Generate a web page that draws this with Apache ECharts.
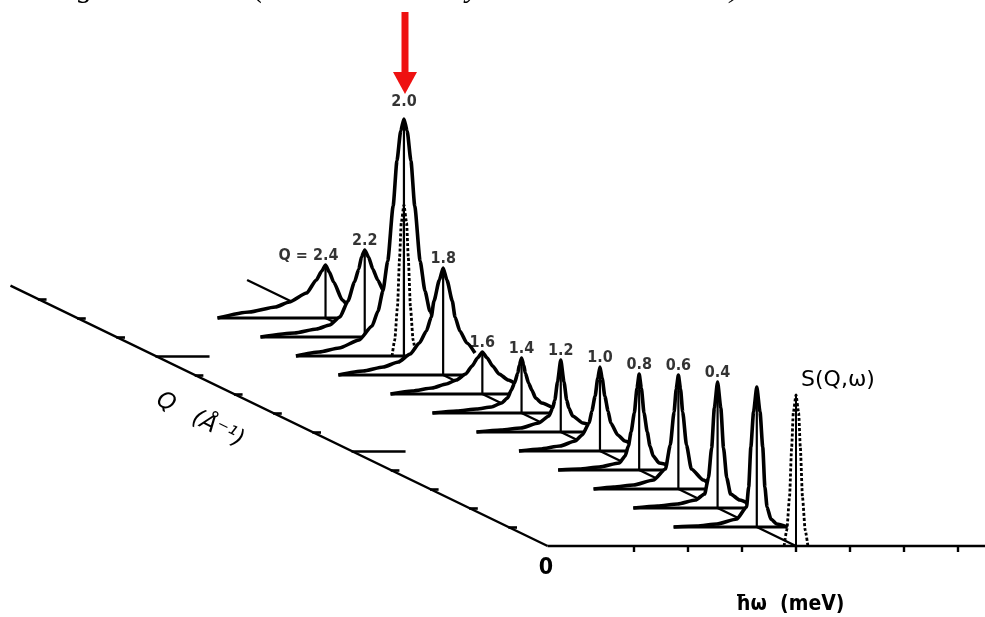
<!DOCTYPE html>
<html>
<head>
<meta charset="utf-8">
<title>S(Q,ω)</title>
<script src="https://cdn.jsdelivr.net/npm/echarts@6/dist/echarts.min.js"></script>
<style>
  html, body { margin: 0; padding: 0; background: #fff; }
  #chart { width: 985px; height: 617px; }
</style>
</head>
<body>
<div id="chart"></div>
<script>
// Q values of the spectra, back to front
var qList = [2.4, 2.2, 2.0, 1.8, 1.6, 1.4, 1.2, 1.0, 0.8, 0.6, 0.4, 0.2];
var qLabels = ['Q = 2.4', '2.2', '2.0', '1.8', '1.6', '1.4', '1.2', '1.0', '0.8', '0.6', '0.4', ''];

// energy (tick units) and S(Q,w)
var w24 = [-2.0, -1.41, -0.93, -0.67, -0.35, -0.17, -0.07, 0, 0.07, 0.15, 0.31, 0.46, 0.59];
var s24 = [0, 0.6, 1.1, 1.6, 2.5, 3.8, 4.7, 5.3, 4.6, 3.6, 1.8, 1.0, 0.6];
var w22 = [-1.93, -1.30, -0.89, -0.65, -0.46, -0.31, -0.19, -0.11, -0.06, 0, 0.07, 0.15, 0.24, 0.35, 0.46, 0.59];
var s22 = [0, 0.4, 0.8, 1.2, 2.0, 3.6, 5.5, 6.8, 8.0, 8.7, 8.0, 6.8, 5.7, 4.6, 3.3, 2.2];
var w20 = [-2.0, -1.57, -1.20, -0.83, -0.59, -0.48, -0.39, -0.30, -0.20, -0.13, -0.06, 0, 0.06, 0.13, 0.20, 0.30, 0.39, 0.48, 0.59];
var s20 = [0, 0.4, 0.8, 1.6, 3.0, 4.5, 6.5, 9.5, 15.0, 19.5, 22.5, 23.7, 22.5, 19.5, 15.0, 9.5, 6.5, 4.5, 3.0];
var w18 = [-1.94, -1.48, -1.11, -0.83, -0.61, -0.44, -0.31, -0.22, -0.17, -0.07, 0, 0.07, 0.17, 0.22, 0.31, 0.44, 0.59];
var s18 = [0, 0.4, 0.8, 1.3, 2.1, 3.2, 4.4, 5.8, 7.4, 9.5, 10.7, 9.5, 7.4, 5.8, 4.4, 3.2, 2.2];
var w16 = [-1.70, -1.30, -0.93, -0.67, -0.48, -0.31, -0.19, -0.09, 0, 0.09, 0.19, 0.31, 0.48, 0.59];
var s16 = [0, 0.3, 0.6, 1.0, 1.4, 2.0, 2.8, 3.6, 4.2, 3.6, 2.8, 2.0, 1.4, 1.1];
var w14 = [-1.65, -1.20, -0.83, -0.56, -0.37, -0.26, -0.19, -0.13, -0.07, -0.04, 0, 0.04, 0.07, 0.13, 0.19, 0.26, 0.37, 0.59];
var s14 = [0, 0.2, 0.4, 0.6, 1.0, 1.5, 2.3, 3.0, 4.0, 4.8, 5.5, 4.8, 4.0, 3.0, 2.3, 1.5, 1.0, 0.5];
var w12 = [-1.56, -1.11, -0.74, -0.41, -0.22, -0.15, -0.11, -0.06, 0, 0.06, 0.11, 0.15, 0.22, 0.41, 0.59];
var s12 = [0, 0.2, 0.4, 0.9, 1.6, 2.4, 3.2, 5.0, 7.2, 5.0, 3.2, 2.4, 1.6, 0.9, 0.6];
var w10 = [-1.50, -1.11, -0.74, -0.46, -0.33, -0.20, -0.15, -0.09, -0.04, 0, 0.04, 0.09, 0.15, 0.20, 0.33, 0.46, 0.59];
var s10 = [0, 0.2, 0.5, 1.0, 1.6, 2.8, 4.0, 5.5, 7.3, 8.4, 7.3, 5.5, 4.0, 2.8, 1.6, 1.0, 0.7];
var w08 = [-1.50, -1.11, -0.74, -0.37, -0.26, -0.20, -0.15, -0.09, -0.04, 0, 0.04, 0.09, 0.15, 0.20, 0.26, 0.37, 0.59];
var s08 = [0, 0.1, 0.3, 0.7, 1.4, 2.4, 3.8, 5.7, 8.2, 9.6, 8.2, 5.7, 3.8, 2.4, 1.4, 0.7, 0.4];
var w06 = [-1.57, -1.20, -0.83, -0.46, -0.24, -0.15, -0.08, -0.04, 0, 0.04, 0.08, 0.15, 0.24, 0.46, 0.59];
var s06 = [0, 0.2, 0.4, 0.9, 2.0, 4.4, 7.7, 10.0, 11.4, 10.0, 7.7, 4.4, 2.0, 0.9, 0.4];
var w04 = [-1.56, -1.11, -0.74, -0.41, -0.24, -0.17, -0.11, -0.06, 0, 0.06, 0.11, 0.17, 0.24, 0.41, 0.59];
var s04 = [0, 0.2, 0.4, 0.8, 1.4, 3.0, 6.0, 10.0, 12.6, 10.0, 6.0, 3.0, 1.4, 0.8, 0.4];
var w02 = [-1.54, -1.11, -0.74, -0.37, -0.19, -0.15, -0.11, -0.06, 0, 0.06, 0.11, 0.15, 0.19, 0.26, 0.37, 0.57];
var s02 = [0, 0.1, 0.3, 0.8, 2.0, 4.0, 8.0, 11.5, 14.0, 11.5, 8.0, 4.0, 2.0, 0.8, 0.3, 0];

// resolution (dashed), drawn at Q = 2.0 and Q = 0
var wRes = [-0.22, -0.17, -0.12, -0.08, -0.05, 0, 0.05, 0.08, 0.12, 0.17, 0.22];
var sRes = [0, 1.6, 4.9, 9.9, 13.3, 15.1, 13.3, 9.9, 4.9, 1.6, 0];
var resQ = [2.0, 0];

// axis ticks
var wTicks = [-3, -2, -1, 0, 1, 2, 3];
var qTicks = [0.2, 0.4, 0.6, 0.8, 1.2, 1.4, 1.6, 1.8, 2.2, 2.4, 2.6];
var qMajor = [1.0, 2.0];

var wByQ = [w24, w22, w20, w18, w16, w14, w12, w10, w08, w06, w04, w02];
var sByQ = [s24, s22, s20, s18, s16, s14, s12, s10, s08, s06, s04, s02];

// oblique drawing: a step in Q moves the spectrum left and up
var qShiftW = -3.63;
var qShiftS = 9.5;
var wEdge = -4.6, wEnd = 3.5, qEnd = 2.74, qRidge = 2.8;

function proj(w, s, q) {
    return [w + q * qShiftW, s + q * qShiftS];
}
function seg(a, b) {
    return [{coord: a}, {coord: b}];
}

var black = '#000';
var series = [];

// ħω axis with ticks
series.push({
    type: 'line', z: 2, data: [proj(wEdge, 0, 0), proj(wEnd, 0, 0)],
    symbol: 'none', lineStyle: {color: black, width: 2.4},
    markLine: {
        silent: true, symbol: ['none', 'none'], label: {show: false},
        lineStyle: {color: black, width: 2.4, type: 'solid'},
        data: wTicks.map(function (w) { return seg(proj(w, 0, 0), proj(w, -0.6, 0)); })
    }
});
// Q axis with ticks
var qTickSegs = qTicks.map(function (q) { return seg(proj(wEdge, 0, q), proj(wEdge + 0.16, 0, q)); })
    .concat(qMajor.map(function (q) { return seg(proj(wEdge, 0, q), proj(wEdge + 1.0, 0, q)); }));
series.push({
    type: 'line', z: 2, data: [proj(wEdge, 0, 0), proj(wEdge, 0, qEnd)],
    symbol: 'none', lineStyle: {color: black, width: 2.4},
    markLine: {
        silent: true, symbol: ['none', 'none'], label: {show: false},
        lineStyle: {color: black, width: 2.6, type: 'solid'},
        data: qTickSegs
    }
});
// zero-energy line along Q on the floor
series.push({
    type: 'line', z: 2, data: [proj(0, 0, 0), proj(0, 0, qRidge)],
    symbol: 'none', lineStyle: {color: black, width: 2.4}
});

function resSeries(q, z) {
    return [{
        type: 'line', z: z, symbol: 'none', smooth: 0.2, smoothMonotone: 'x',
        data: wRes.map(function (w, i) { return proj(w, sRes[i], q); }),
        lineStyle: {color: black, width: 2.8, type: [3, 2]}
    }, {
        type: 'line', z: z, symbol: 'none',
        data: [proj(0, 0, q), proj(0, 15.1, q)],
        lineStyle: {color: black, width: 2}
    }];
}

var labelPts = [];
qList.forEach(function (q, k) {
    var w = wByQ[k], s = sByQ[k];
    var top = Math.max.apply(null, s);
    var z = 3 + k;
    series.push({
        type: 'line', z: z, symbol: 'none', smooth: 0.2, smoothMonotone: 'x',
        data: w.map(function (x, i) { return proj(x, s[i], q); }),
        lineStyle: {color: black, width: 3.6},
        areaStyle: {color: '#fff', opacity: 1, origin: q * qShiftS}
    });
    series.push({
        type: 'line', z: z, symbol: 'none',
        data: [proj(w[0], 0, q), proj(w[w.length - 1], 0, q)],
        lineStyle: {color: black, width: 2.8}
    });
    series.push({
        type: 'line', z: z, symbol: 'none',
        data: [proj(0, 0, q), proj(0, top, q)],
        lineStyle: {color: black, width: 2.2}
    });
    if (q === resQ[0]) series = series.concat(resSeries(q, z));
    if (qLabels[k]) {
        var p = proj(0, top, q);
        labelPts.push({
            value: p,
            label: {
                formatter: qLabels[k],
                offset: k === 0 ? [-17, 0] : [0, 0],
                distance: k === 2 ? 9 : 1
            }
        });
    }
});
series = series.concat(resSeries(resQ[1], 3 + qList.length));

series.push({
    type: 'scatter', z: 40, symbolSize: 0, data: labelPts, silent: true,
    label: {
        show: true, position: 'top', color: black,
        fontFamily: 'DejaVu Sans Condensed, DejaVu Sans, sans-serif',
        fontSize: 16, fontWeight: 'bold'
    }
});

var chart = echarts.init(document.getElementById('chart'), null, {renderer: 'canvas'});
chart.setOption({
    animation: false,
    backgroundColor: '#fff',
    grid: {left: 0, right: 0, top: 0, bottom: 0},
    xAxis: {type: 'value', min: -14.74, max: 3.5, show: false},
    yAxis: {type: 'value', min: -7.1, max: 54.6, show: false},
    series: series,
    graphic: [
        // clipped caption line from the page above
        {type: 'text', left: 78, top: -26, style: {text: 'g', font: 'italic 30px Liberation Serif', fill: black}},
        {type: 'text', left: 254, top: -26, style: {text: '(', font: 'italic 30px Liberation Serif', fill: black}},
        {type: 'text', left: 466, top: -26, style: {text: 'y', font: 'italic 30px Liberation Serif', fill: black}},
        {type: 'text', left: 730, top: -26, style: {text: ')', font: 'italic 30px Liberation Serif', fill: black}},
        // red arrow pointing at Q = 2.0
        {type: 'rect', shape: {x: 401.5, y: 12, width: 7, height: 62}, style: {fill: '#ee1111'}},
        {type: 'polygon', shape: {points: [[393, 72], [417, 72], [405, 94]]}, style: {fill: '#ee1111'}},
        {type: 'text', x: 838, y: 380, style: {text: 'S(Q,ω)', font: '22px DejaVu Sans', fill: black, align: 'center', verticalAlign: 'middle'}},
        {type: 'text', x: 546, y: 568, style: {text: '0', font: 'bold 23px DejaVu Sans Condensed, DejaVu Sans', fill: black, align: 'center', verticalAlign: 'middle'}},
        {type: 'text', x: 790, y: 605, style: {text: 'ħω  (meV)', font: 'bold 21px DejaVu Sans Condensed, DejaVu Sans', fill: black, align: 'center', verticalAlign: 'middle'}},
        {type: 'text', x: 200, y: 420, rotation: -0.47,
         style: {text: 'Q   (Å⁻¹)', font: 'italic 23px DejaVu Sans', fill: black, align: 'center', verticalAlign: 'middle'}}
    ]
});
</script>
</body>
</html>
